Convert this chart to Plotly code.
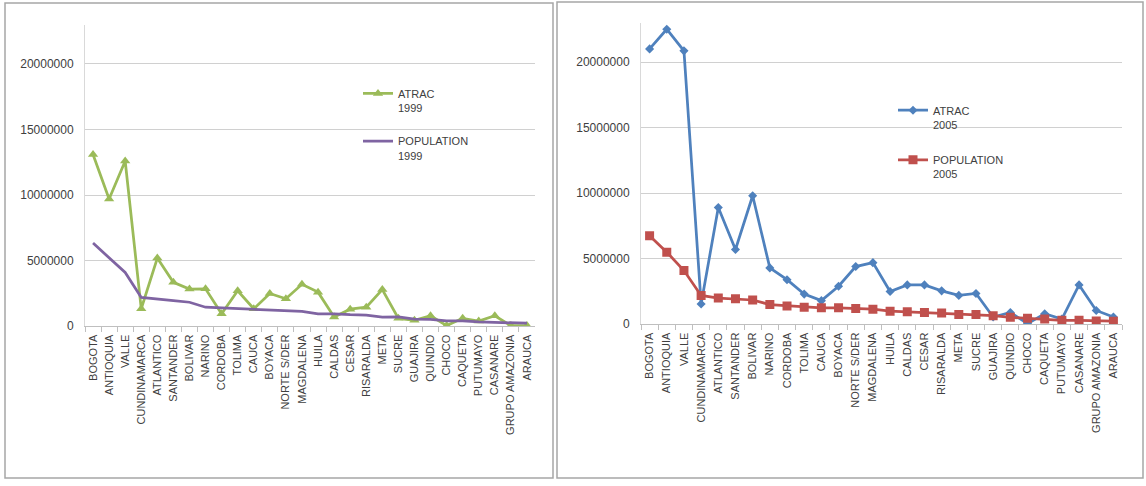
import plotly.graph_objects as go

W, H = 1146, 486

categories = ["BOGOTA", "ANTIOQUIA", "VALLE", "CUNDINAMARCA", "ATLANTICO", "SANTANDER",
              "BOLIVAR", "NARINO", "CORDOBA", "TOLIMA", "CAUCA", "BOYACA", "NORTE S/DER",
              "MAGDALENA", "HUILA", "CALDAS", "CESAR", "RISARALDA", "META", "SUCRE",
              "GUAJIRA", "QUINDIO", "CHOCO", "CAQUETA", "PUTUMAYO", "CASANARE",
              "GRUPO AMAZONIA", "ARAUCA"]

atrac_1999 = [13100000, 9700000, 12600000, 1330000, 5200000, 3350000, 2830000, 2850000,
              950000, 2700000, 1330000, 2500000, 2100000, 3200000, 2600000, 700000,
              1300000, 1450000, 2800000, 600000, 450000, 800000, 50000, 600000,
              400000, 800000, 50000, 50000]
population_1999 = [6340000, 5200000, 4100000, 2200000, 2100000, 1950000, 1830000, 1450000,
                   1400000, 1350000, 1300000, 1270000, 1200000, 1130000, 950000, 950000,
                   880000, 850000, 700000, 720000, 550000, 530000, 400000, 400000,
                   330000, 300000, 250000, 230000]

atrac_2005 = [21000000, 22500000, 20850000, 1550000, 8900000, 5700000, 9800000, 4300000,
              3400000, 2300000, 1800000, 2900000, 4400000, 4700000, 2500000, 3000000,
              3000000, 2550000, 2200000, 2350000, 550000, 900000, 50000, 800000,
              400000, 3000000, 1050000, 550000]
population_2005 = [6750000, 5500000, 4100000, 2200000, 2000000, 1950000, 1850000, 1500000,
                   1400000, 1300000, 1250000, 1250000, 1200000, 1150000, 1000000, 950000,
                   900000, 850000, 750000, 750000, 650000, 530000, 450000, 400000,
                   300000, 300000, 250000, 230000]

FONT = "Liberation Sans Narrow, Arial Narrow, Liberation Sans, sans-serif"
TXT = "#404040"

fig = go.Figure()

fig.add_trace(go.Scatter(x=categories, y=atrac_1999, name="ATRAC<br>1999",
                         mode="lines+markers", line=dict(color="#9BBB59", width=2.75),
                         marker=dict(symbol="triangle-up", size=9, color="#9BBB59"),
                         xaxis="x", yaxis="y", legend="legend", legendgroup="a1"))
fig.add_trace(go.Scatter(x=categories, y=population_1999, name="POPULATION<br>1999",
                         mode="lines", line=dict(color="#7F64A2", width=2.75),
                         xaxis="x", yaxis="y", legend="legend", legendgroup="p1"))
fig.add_trace(go.Scatter(x=categories, y=atrac_2005, name="ATRAC<br>2005",
                         mode="lines+markers", line=dict(color="#4F81BD", width=2.75),
                         marker=dict(symbol="diamond", size=7, color="#4F81BD"),
                         xaxis="x2", yaxis="y2", legend="legend2", legendgroup="a2"))
fig.add_trace(go.Scatter(x=categories, y=population_2005, name="POPULATION<br>2005",
                         mode="lines+markers", line=dict(color="#C0504D", width=2.75),
                         marker=dict(symbol="square", size=9, color="#C0504D"),
                         xaxis="x2", yaxis="y2", legend="legend2", legendgroup="p2"))

xcommon = dict(type="category", range=[-0.5, len(categories) - 0.5], showgrid=False,
               showline=True, linecolor="#bfbfbf", linewidth=1, ticks="outside",
               tickson="boundaries", ticklen=5, tickcolor="#bfbfbf", tickangle=-90,
               ticklabelstandoff=3,
               tickfont=dict(family=FONT, size=11, color=TXT), fixedrange=True)
ycommon = dict(range=[0, 23000000], dtick=5000000, tickformat="d", showgrid=True,
               gridcolor="#d0d0d0", gridwidth=1, showline=True, linecolor="#d9d9d9",
               zeroline=False, tickfont=dict(family=FONT, size=12, color=TXT),
               ticks="", ticklabelstandoff=8, fixedrange=True)

fig.update_layout(
    width=W, height=H,
    margin=dict(l=0, r=0, t=0, b=0),
    paper_bgcolor="white", plot_bgcolor="white",
    xaxis=dict(xcommon, domain=[85 / W, 535 / W], anchor="y"),
    yaxis=dict(ycommon, domain=[(H - 331) / H, (H - 25) / H], anchor="x"),
    xaxis2=dict(xcommon, domain=[641 / W, 1122 / W], anchor="y2"),
    yaxis2=dict(ycommon, domain=[(H - 329) / H, (H - 23) / H], anchor="x2"),
    legend=dict(x=358 / W, y=(H - 81) / H, xanchor="left", yanchor="top",
                bgcolor="rgba(0,0,0,0)", font=dict(family=FONT, size=11, color=TXT),
                valign="top", tracegroupgap=16, traceorder="grouped", itemwidth=30),
    legend2=dict(x=893 / W, y=(H - 98) / H, xanchor="left", yanchor="top",
                 bgcolor="rgba(0,0,0,0)", font=dict(family=FONT, size=11, color=TXT),
                 valign="top", tracegroupgap=18, traceorder="grouped", itemwidth=30),
    showlegend=True,
    shapes=[
        dict(type="rect", xref="paper", yref="paper", x0=5 / W, x1=553 / W,
             y0=1 / H, y1=(H - 3) / H, line=dict(color="#a6a6a6", width=1.5)),
        dict(type="rect", xref="paper", yref="paper", x0=557 / W, x1=1143 / W,
             y0=1 / H, y1=(H - 2) / H, line=dict(color="#a6a6a6", width=1.5)),
    ],
)

fig.write_html("out.html")
